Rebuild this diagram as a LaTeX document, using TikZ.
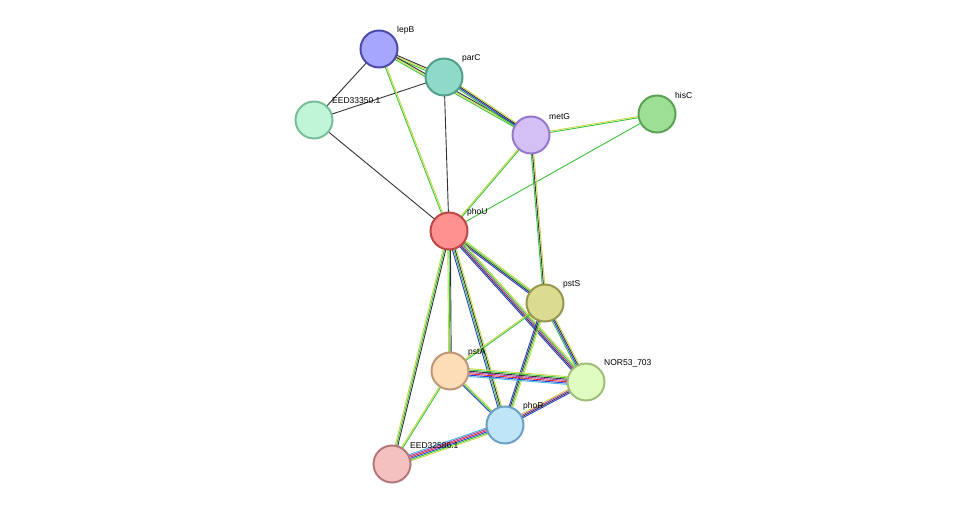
\documentclass[tikz,border=0pt]{standalone}
\usepackage{fontspec}
\setmainfont{Liberation Sans}
\usetikzlibrary{calc,backgrounds}

\definecolor{cneigh}{HTML}{3BC43B}
\definecolor{ctext}{HTML}{C8D84A}
\definecolor{ccoex}{HTML}{333333}
\definecolor{cocc}{HTML}{2C3CD8}
\definecolor{cexp}{HTML}{B03CB0}
\definecolor{cfus}{HTML}{E03030}
\definecolor{cdb}{HTML}{40B8E0}

\newcommand\linkedge[3]{%
  \foreach \c [count=\n] in {#3} {\xdef\nlinks{\n}}
  \foreach \c [count=\i] in {#3} {%
    \pgfmathsetmacro\off{(\i-(\nlinks+1)/2)*1.3}
    \draw[link, \c] ($(#1)!\off pt!90:(#2)$) -- ($(#2)!\off pt!-90:(#1)$);
  }%
}

\begin{document}
\begin{tikzpicture}[x=1pt, y=-1pt,
  prot/.style={circle, line width=2pt, minimum size=37pt, inner sep=0pt},
  lbl/.style={font=\fontsize{8.5}{10}\selectfont, inner sep=1pt, anchor=south west},
  link/.style={line width=0.9pt}
  ]
\useasboundingbox (0,0) rectangle (975,510);

\node[prot, fill=blue!35!white, draw=blue!50!black!70] (lepB) at (379,49) {};
\node[lbl] at (396,35) {lepB};
\node[prot, fill={rgb,255:red,143;green,217;blue,200}, draw={rgb,255:red,80;green,160;blue,140}] (parC) at (444,77) {};
\node[lbl] at (461,63) {parC};
\node[prot, fill={rgb,255:red,192;green,245;blue,216}, draw={rgb,255:red,120;green,190;blue,150}] (eed33350) at (314,120) {};
\node[lbl] at (331,105) {EED33350.1};
\node[prot, fill={rgb,255:red,213;green,192;blue,245}, draw={rgb,255:red,150;green,120;blue,200}] (metG) at (531,135) {};
\node[lbl] at (548,121) {metG};
\node[prot, fill={rgb,255:red,157;green,224;blue,149}, draw={rgb,255:red,90;green,160;blue,85}] (hisC) at (657,114) {};
\node[lbl] at (674,100) {hisC};
\node[prot, fill={rgb,255:red,255;green,144;blue,144}, draw={rgb,255:red,190;green,70;blue,70}] (phoU) at (449,231) {};
\node[lbl] at (466,217) {phoU};
\node[prot, fill={rgb,255:red,220;green,220;blue,144}, draw={rgb,255:red,150;green,150;blue,80}] (pstS) at (545,303) {};
\node[lbl] at (562,289) {pstS};
\node[prot, fill={rgb,255:red,253;green,220;blue,184}, draw={rgb,255:red,190;green,150;blue,120}] (pstA) at (450,371) {};
\node[lbl] at (467,357) {pstA};
\node[prot, fill={rgb,255:red,224;green,252;blue,192}, draw={rgb,255:red,160;green,190;blue,120}] (nor53) at (586,382) {};
\node[lbl] at (603,368) {NOR53\_703};
\node[prot, fill={rgb,255:red,191;green,229;blue,248}, draw={rgb,255:red,110;green,160;blue,195}] (phoR) at (505,425) {};
\node[lbl] at (522,411) {phoR};
\node[prot, fill={rgb,255:red,245;green,192;blue,192}, draw={rgb,255:red,180;green,120;blue,120}] (eed32586) at (392,464) {};
\node[lbl] at (409,450) {EED32586.1};

\begin{scope}[on background layer]
\linkedge{lepB}{eed33350}{ccoex}
\linkedge{parC}{eed33350}{ccoex}
\linkedge{lepB}{parC}{cneigh,ctext,ccoex}
\linkedge{lepB}{metG}{cneigh,ctext,ccoex}
\linkedge{parC}{metG}{cneigh,cocc,ccoex,ctext}
\linkedge{lepB}{phoU}{cneigh,ctext}
\linkedge{parC}{phoU}{ccoex}
\linkedge{eed33350}{phoU}{ccoex}
\linkedge{metG}{hisC}{cneigh,ctext}
\linkedge{metG}{phoU}{ctext,cneigh}
\linkedge{hisC}{phoU}{cneigh}
\linkedge{metG}{pstS}{cneigh,ccoex,ctext}
\linkedge{phoU}{pstS}{cocc,ccoex,cneigh,ctext}
\linkedge{phoU}{nor53}{cocc,ccoex,cexp,cneigh,ctext}
\linkedge{phoU}{pstA}{ctext,cneigh,ccoex}
\linkedge{phoU}{phoR}{cocc,cneigh,ccoex,ctext}
\linkedge{phoU}{eed32586}{ctext,cneigh,ccoex}
\linkedge{pstS}{pstA}{ctext,cneigh}
\linkedge{pstS}{nor53}{cneigh,cocc,ccoex,ctext}
\linkedge{pstS}{phoR}{cocc,ccoex,cneigh,ctext}
\linkedge{pstA}{nor53}{cdb,cocc,cfus,cexp,ccoex,cneigh,ctext}
\linkedge{pstA}{phoR}{cocc,cneigh,ctext}
\linkedge{pstA}{eed32586}{ctext,cneigh}
\linkedge{phoR}{nor53}{cocc,ccoex,cexp,ctext}
\linkedge{phoR}{eed32586}{cdb,cexp,cfus,cocc,cneigh,ctext}
\end{scope}
\end{tikzpicture}
\end{document}
